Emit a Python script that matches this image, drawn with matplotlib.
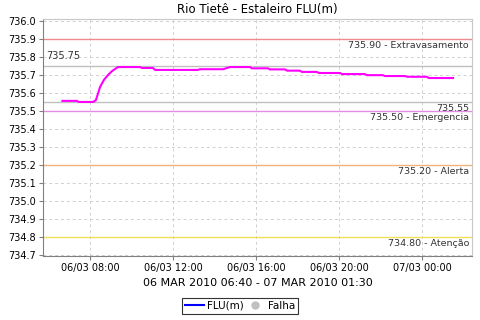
import matplotlib
matplotlib.use("Agg")
import matplotlib.pyplot as plt
import matplotlib.dates as mdates
from matplotlib.lines import Line2D
import pandas as pd

# FLU(m) readings, 06/03/2010 06:40 to 07/03/2010 01:30
times = [
    "2010-03-06 06:40", "2010-03-06 07:22", "2010-03-06 07:28", "2010-03-06 08:09",
    "2010-03-06 08:17", "2010-03-06 08:29", "2010-03-06 08:40", "2010-03-06 08:52",
    "2010-03-06 09:04", "2010-03-06 09:12", "2010-03-06 09:21", "2010-03-06 10:25",
    "2010-03-06 10:30", "2010-03-06 11:02", "2010-03-06 11:08", "2010-03-06 13:12",
    "2010-03-06 13:18", "2010-03-06 14:25", "2010-03-06 14:33", "2010-03-06 14:45",
    "2010-03-06 15:43", "2010-03-06 15:48", "2010-03-06 16:35", "2010-03-06 16:40",
    "2010-03-06 17:24", "2010-03-06 17:30", "2010-03-06 18:07", "2010-03-06 18:13",
    "2010-03-06 18:56", "2010-03-06 19:02", "2010-03-06 20:03", "2010-03-06 20:09",
    "2010-03-06 21:15", "2010-03-06 21:21", "2010-03-06 22:07", "2010-03-06 22:13",
    "2010-03-06 23:11", "2010-03-06 23:17", "2010-03-07 00:14", "2010-03-07 00:20",
    "2010-03-07 01:30",
]
levels = [
    735.556, 735.556, 735.550, 735.550,
    735.560, 735.633, 735.672, 735.700,
    735.722, 735.733, 735.744, 735.744,
    735.739, 735.739, 735.728, 735.728,
    735.732, 735.732, 735.737, 735.744,
    735.744, 735.737, 735.737, 735.731,
    735.731, 735.724, 735.724, 735.717,
    735.717, 735.711, 735.711, 735.705,
    735.705, 735.699, 735.699, 735.694,
    735.694, 735.690, 735.690, 735.683,
    735.683,
]

# reference lines: value, right-hand label, colour
ref_values = [735.90, 735.50, 735.20, 734.80]
ref_labels = ["735.90 - Extravasamento", "735.50 - Emergencia", "735.20 - Alerta", "734.80 - Atenção"]
ref_colors = ["#f08a8a", "#e58ae5", "#f2b27a", "#f2e05a"]
max_level = 735.75
min_level = 735.55

t = pd.to_datetime(times)

fig = plt.figure(figsize=(4.8, 3.2), dpi=100)
ax = fig.add_axes([0.0896, 0.2, 0.8938, 0.7406])

ax.set_xlim(pd.Timestamp("2010-03-06 05:44"), pd.Timestamp("2010-03-07 02:25"))
ax.set_ylim(734.694, 736.011)

ax.grid(True, color="#d0d0d0", linestyle=(0, (3, 3)), linewidth=0.7)
ax.set_axisbelow(True)

for v, lab, c in zip(ref_values, ref_labels, ref_colors):
    ax.axhline(v, color=c, linewidth=1.0)
    ax.text(0.993, v - 0.012, lab, transform=ax.get_yaxis_transform(),
            ha="right", va="top", fontsize=6.8, color="#333333")

ax.axhline(max_level, color="#c0c0c0", linewidth=1.0)
ax.text(0.007, max_level + 0.03, f"{max_level:.2f}", transform=ax.get_yaxis_transform(),
        ha="left", va="bottom", fontsize=7, color="#333333")
ax.axhline(min_level, color="#c0c0c0", linewidth=1.0)
ax.text(0.993, min_level - 0.012, f"{min_level:.2f}", transform=ax.get_yaxis_transform(),
        ha="right", va="top", fontsize=6.8, color="#333333")

ax.plot(t, levels, color="#ff00ff", linewidth=1.5)

ax.xaxis.set_major_locator(mdates.HourLocator(byhour=[0, 4, 8, 12, 16, 20]))
ax.xaxis.set_major_formatter(mdates.DateFormatter("%d/%m %H:%M"))
ax.yaxis.set_major_locator(plt.MultipleLocator(0.1))
ax.yaxis.set_major_formatter(plt.FormatStrFormatter("%.1f"))
ax.tick_params(labelsize=7, length=3, color="#808080", pad=2)

for side in ("left", "bottom"):
    ax.spines[side].set_color("#808080")
for side in ("top", "right"):
    ax.spines[side].set_color("#c8c8c8")

ax.set_title("Rio Tietê - Estaleiro FLU(m)", fontsize=8.5, pad=4)
ax.set_xlabel("06 MAR 2010 06:40 - 07 MAR 2010 01:30", fontsize=8, labelpad=4)

handles = [
    Line2D([], [], color="blue", linewidth=1.5),
    Line2D([], [], color="#c0c0c0", marker="o", linestyle="none", markersize=5),
]
leg = fig.legend(handles, ["FLU(m)", "Falha"], loc="center", bbox_to_anchor=(0.5, 0.044),
                 ncol=2, fontsize=7.5, frameon=True, fancybox=False, handlelength=1.8,
                 columnspacing=0.2, handletextpad=0.3, borderpad=0.3, edgecolor="black")
leg.get_frame().set_linewidth(0.8)

fig.savefig("out.png", dpi=100)
